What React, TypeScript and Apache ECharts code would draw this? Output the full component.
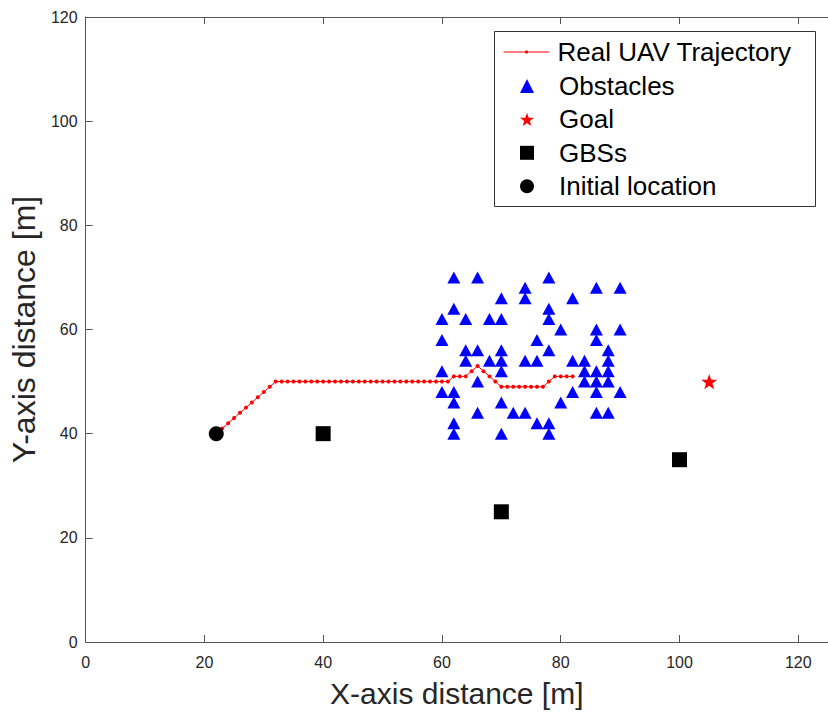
import React, { useEffect, useRef } from "react";
import * as echarts from "echarts";

// ---- Data ----
const xTicks = [0, 20, 40, 60, 80, 100, 120];
const yTicks = [0, 20, 40, 60, 80, 100, 120];

const trajX = [
  22, 23, 24, 25, 26, 27, 28, 29, 30, 31, 32, 33, 34, 35, 36, 37, 38, 39, 40, 41,
  42, 43, 44, 45, 46, 47, 48, 49, 50, 51, 52, 53, 54, 55, 56, 57, 58, 59, 60, 61,
  62, 63, 64, 65, 66, 67, 68, 69, 70, 71, 72, 73, 74, 75, 76, 77, 78, 79, 80, 81, 82,
];
const trajY = [
  40, 41, 42, 43, 44, 45, 46, 47, 48, 49, 50, 50, 50, 50, 50, 50, 50, 50, 50, 50,
  50, 50, 50, 50, 50, 50, 50, 50, 50, 50, 50, 50, 50, 50, 50, 50, 50, 50, 50, 50,
  51, 51, 51, 52, 53, 52, 51, 50, 49, 49, 49, 49, 49, 49, 49, 49, 50, 51, 51, 51, 51,
];

const obstacles: [number, number][] = [
  [62, 70], [66, 70], [78, 70],
  [74, 68], [86, 68], [90, 68],
  [70, 66], [74, 66], [82, 66],
  [62, 64], [78, 64],
  [60, 62], [64, 62], [68, 62], [70, 62], [78, 62],
  [80, 60], [86, 60], [90, 60],
  [60, 58], [76, 58], [86, 58],
  [64, 56], [66, 56], [70, 56], [78, 56], [88, 56],
  [64, 54], [68, 54], [70, 54], [74, 54], [76, 54], [82, 54], [84, 54], [88, 54],
  [60, 52], [70, 52], [84, 52], [86, 52], [88, 52],
  [66, 50], [84, 50], [86, 50], [88, 50],
  [60, 48], [62, 48], [82, 48], [86, 48], [90, 48],
  [62, 46], [70, 46], [80, 46],
  [66, 44], [72, 44], [74, 44], [86, 44], [88, 44],
  [62, 42], [76, 42], [78, 42],
  [62, 40], [70, 40], [78, 40],
];

const goal: [number, number][] = [[105, 50]];
const gbss: [number, number][] = [[40, 40], [70, 25], [100, 35]];
const initialLocation: [number, number][] = [[22, 40]];

const seriesNames = ["Real UAV Trajectory", "Obstacles", "Goal", "GBSs", "Initial location"];

const STAR =
  "path://M0,-10 L2.35,-3.24 L9.51,-3.09 L3.8,1.24 L5.88,8.09 L0,4 L-5.88,8.09 L-3.8,1.24 L-9.51,-3.09 L-2.35,-3.24 Z";

const FONT = "'Liberation Sans', Arial, Helvetica, sans-serif";
const AXIS_COLOR = "#555555";
const TEXT_COLOR = "#262626";

export default function App() {
  const ref = useRef<HTMLDivElement>(null);

  useEffect(() => {
    if (!ref.current) return;
    const chart = echarts.init(ref.current, undefined, { renderer: "svg" });

    const axisCommon = {
      type: "value" as const,
      splitLine: { show: false },
      axisLine: { show: true, lineStyle: { color: AXIS_COLOR, width: 1 } },
      axisTick: { show: true, inside: true, length: 7, lineStyle: { color: AXIS_COLOR, width: 1 } },
    };

    const option: any = {
      animation: false,
      backgroundColor: "#ffffff",
      textStyle: { fontFamily: FONT },
      grid: { left: 85, top: 17, width: 745, height: 625, containLabel: false },
      xAxis: [
        {
          ...axisCommon,
          position: "bottom",
          min: xTicks[0],
          max: 125,
          interval: 20,
          name: "X-axis distance [m]",
          nameLocation: "middle",
          nameGap: 36,
          nameTextStyle: { fontSize: 30, color: TEXT_COLOR, fontFamily: FONT },
          axisLabel: {
            showMaxLabel: false,
            margin: 12,
            fontSize: 16,
            color: TEXT_COLOR,
            fontFamily: FONT,
            formatter: (v: number) => (xTicks.includes(v) ? String(v) : ""),
          },
        },
        {
          ...axisCommon,
          position: "top",
          min: xTicks[0],
          max: 125,
          interval: 20,
          axisLabel: { show: false },
        },
      ],
      yAxis: {
        ...axisCommon,
        position: "left",
        min: yTicks[0],
        max: yTicks[yTicks.length - 1],
        interval: 20,
        name: "Y-axis distance [m]",
        nameLocation: "middle",
        nameGap: 40,
        nameTextStyle: { fontSize: 32, color: TEXT_COLOR, fontFamily: FONT },
        axisLabel: {
          margin: 8,
          fontSize: 16,
          color: TEXT_COLOR,
          fontFamily: FONT,
          formatter: (v: number) => (yTicks.includes(v) ? String(v) : ""),
        },
      },
      graphic: [
        {
          type: "rect",
          z: 3,
          shape: { x: 494.5, y: 31.5, width: 321, height: 175 },
          style: { fill: "#ffffff", stroke: "#333333", lineWidth: 1 },
        },
      ],
      legend: [
        {
          z: 6,
          orient: "vertical",
          left: 503,
          top: 39,
          padding: 0,
          itemWidth: 46,
          itemHeight: 4,
          itemGap: 7.4,
          lineStyle: { width: 1 },
          data: [seriesNames[0]],
          textStyle: { fontSize: 26, lineHeight: 26, color: "#000", fontFamily: FONT, padding: [0, 0, 0, 3] },
        },
        {
          z: 6,
          orient: "vertical",
          left: 520,
          top: 73,
          padding: 0,
          itemWidth: 14,
          itemHeight: 14,
          itemGap: 7.4,
          data: seriesNames.slice(1),
          textStyle: { fontSize: 26, lineHeight: 26, color: "#000", fontFamily: FONT, padding: [0, 0, 0, 20] },
        },
      ],
      series: [
        {
          name: seriesNames[0],
          type: "line",
          data: trajX.map((x, i) => [x, trajY[i]]),
          symbol: "circle",
          symbolSize: 4,
          showSymbol: true,
          itemStyle: { color: "#ff0000", opacity: 1 },
          lineStyle: { color: "#ff0000", width: 1 },
          z: 2,
        },
        {
          name: seriesNames[1],
          type: "scatter",
          data: obstacles,
          symbol: "triangle",
          symbolSize: [13, 12],
          itemStyle: { color: "#0000ff", opacity: 1 },
          z: 3,
        },
        {
          name: seriesNames[2],
          type: "scatter",
          data: goal,
          symbol: STAR,
          symbolKeepAspect: true,
          symbolSize: 16,
          itemStyle: { color: "#ff0000", opacity: 1 },
          z: 3,
        },
        {
          name: seriesNames[3],
          type: "scatter",
          data: gbss,
          symbol: "rect",
          symbolSize: 15,
          itemStyle: { color: "#000000", opacity: 1 },
          z: 3,
        },
        {
          name: seriesNames[4],
          type: "scatter",
          data: initialLocation,
          symbol: "circle",
          symbolSize: 15,
          itemStyle: { color: "#000000", opacity: 1 },
          z: 3,
        },
      ],
    };

    chart.setOption(option);
    return () => chart.dispose();
  }, []);

  return (
    <div
      ref={ref}
      style={{ position: "fixed", left: 0, top: 0, width: 828, height: 717 }}
    />
  );
}
